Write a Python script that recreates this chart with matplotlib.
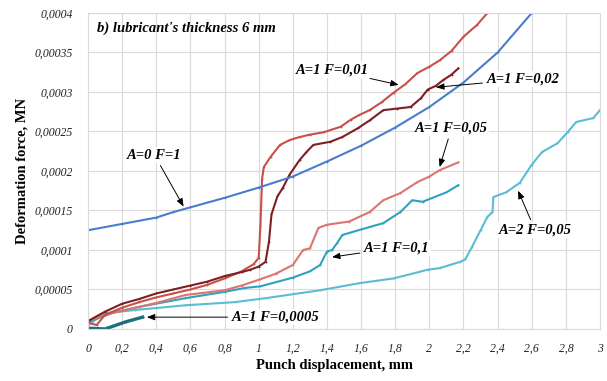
import matplotlib
matplotlib.use('Agg')
import matplotlib.pyplot as plt
from matplotlib.ticker import FixedLocator, FuncFormatter

# A=0 F=1
x_a0 = [0, 0.2, 0.4, 0.5, 0.6, 0.8, 1.0, 1.2, 1.4, 1.6, 1.8, 2.0, 2.2, 2.4, 2.6]
y_a0 = [0.000125, 0.000133, 0.000141, 0.000148, 0.000154, 0.000166, 0.000179, 0.000193,
        0.000212, 0.000232, 0.000255, 0.000281, 0.000312, 0.00035, 0.0004]

# A=1 F=0,01
x_f001 = [0, 0.05, 0.1, 0.2, 0.3, 0.4, 0.5, 0.6, 0.7, 0.8, 0.9, 0.97, 1.0, 1.01, 1.02, 1.03,
          1.07, 1.125, 1.18, 1.24, 1.3, 1.38, 1.48, 1.54, 1.59, 1.65, 1.72, 1.79, 1.86, 1.93,
          2.0, 2.06, 2.13, 2.2, 2.28, 2.34]
y_f001 = [0.000008, 0.000005, 0.000018, 0.000027, 0.000034, 0.00004, 0.000045, 0.00005,
          0.000056, 0.000064, 0.000073, 0.000082, 0.00009, 0.00013, 0.00019, 0.000205,
          0.000218, 0.000233, 0.000239, 0.000243, 0.000246, 0.000249, 0.000256, 0.000265,
          0.000271, 0.000277, 0.000287, 0.000299, 0.00031, 0.000324, 0.000332, 0.00034,
          0.000352, 0.00037, 0.000385, 0.0004]

# A=1 F=0,02
x_f002 = [0, 0.1, 0.2, 0.3, 0.4, 0.5, 0.6, 0.7, 0.8, 0.9, 0.95, 1.0, 1.04, 1.06, 1.075, 1.11,
          1.14, 1.18, 1.24, 1.28, 1.32, 1.42, 1.49, 1.58, 1.65, 1.73, 1.81, 1.89, 1.95, 1.99,
          2.04, 2.08, 2.13, 2.17]
y_f002 = [0.00001, 0.000022, 0.000032, 0.000038, 0.000045, 0.00005, 0.000055, 0.00006,
          0.000067, 0.000072, 0.000075, 0.000079, 0.000085, 0.00011, 0.000145, 0.000168,
          0.000178, 0.000195, 0.000214, 0.000224, 0.000233, 0.000237, 0.000243, 0.000254,
          0.000264, 0.000277, 0.000279, 0.000281, 0.000292, 0.000303, 0.000308, 0.000315,
          0.000322, 0.00033]

# A=1 F=0,05
x_f005 = [0, 0.1, 0.2, 0.3, 0.4, 0.57, 0.8, 0.9, 1.01, 1.1, 1.2, 1.26, 1.3, 1.35, 1.4, 1.53,
          1.65, 1.73, 1.83, 1.93, 2.0, 2.06, 2.17]
y_f005 = [0.00001, 0.000018, 0.000023, 0.000028, 0.000033, 0.000043, 0.000049, 0.000055,
          0.000063, 0.00007, 0.000081, 0.0001, 0.000102, 0.000128, 0.000132, 0.000136,
          0.000148, 0.000163, 0.000172, 0.000186, 0.000193, 0.000201, 0.000211]

# A=1 F=0,1
x_f01 = [0, 0.16, 0.3, 0.57, 0.8, 0.92, 1.01, 1.2, 1.3, 1.36, 1.4, 1.43, 1.46, 1.49, 1.6,
         1.73, 1.83, 1.9, 1.96, 2.1, 2.17]
y_f01 = [0.000009, 0.0000215, 0.000028, 0.000039, 0.000047, 0.000052, 0.000054, 0.000065,
         0.000073, 0.000081, 0.000098, 0.0001, 0.000109, 0.000119, 0.000126, 0.000134,
         0.000148, 0.000163, 0.000161, 0.000173, 0.000182]

# A=2 F=0,05
x_a2 = [0, 0.1, 0.275, 0.57, 0.86, 1.04, 1.36, 1.59, 1.79, 1.99, 2.06, 2.18, 2.21, 2.25, 2.3,
        2.34, 2.37, 2.375, 2.45, 2.53, 2.6, 2.66, 2.75, 2.81, 2.86, 2.96, 3.0]
y_a2 = [0.000005, 0.00002, 0.000024, 0.00003, 0.000034, 0.000039, 0.000049, 0.000058,
        0.000064, 0.000075, 0.000077, 0.000085, 0.000088, 0.000104, 0.000125, 0.000142,
        0.000148, 0.000167, 0.000173, 0.000185, 0.000208, 0.000224, 0.000235, 0.000249,
        0.000262, 0.000267, 0.000277]

# A=1 F=0,0005
x_f00005 = [0, 0.1, 0.22, 0.32]
y_f00005 = [0.000001, 0.0, 0.000009, 0.000015]

x_ticks = [0, 0.2, 0.4, 0.6, 0.8, 1, 1.2, 1.4, 1.6, 1.8, 2, 2.2, 2.4, 2.6, 2.8, 3]
y_ticks = [0, 0.00005, 0.0001, 0.00015, 0.0002, 0.00025, 0.0003, 0.00035, 0.0004]
y_tick_labels = ['0', '0,00005', '0,0001', '0,00015', '0,0002', '0,00025', '0,0003',
                 '0,00035', '0,0004']

plt.rcParams['font.family'] = ['Liberation Serif', 'DejaVu Serif']

fig = plt.figure(figsize=(6.07, 3.81), dpi=100)
ax = fig.add_axes([0.145, 0.1365, 0.8435, 0.8294])

line_kw = dict(lw=1.5, marker='+', ms=2, mew=0.6)
ax.plot(x_a2, y_a2, color='#5bbcd3', **line_kw)
ax.plot(x_f01, y_f01, color='#2fa2c0', **line_kw)
ax.plot(x_f005, y_f005, color='#dc7470', **line_kw)
ax.plot(x_f001, y_f001, color='#c8504b', **line_kw)
ax.plot(x_f002, y_f002, color='#7e1f22', **line_kw)
ax.plot(x_a0, y_a0, color='#4a7ccc', **line_kw)
ax.plot(x_f00005, y_f00005, color='#1c6f7c', lw=2.4, marker='+', ms=2, mew=0.6)

ax.set_xlim(0, 3)
ax.set_ylim(0, 0.0004)
ax.xaxis.set_major_locator(FixedLocator(x_ticks))
ax.yaxis.set_major_locator(FixedLocator(y_ticks))
ax.xaxis.set_major_formatter(FuncFormatter(lambda v, p: ('%g' % v).replace('.', ',')))
ax.set_yticklabels(y_tick_labels)
ax.tick_params(length=0, labelsize=8.5, colors='#222222')
ax.tick_params(axis='y', pad=11)
ax.tick_params(axis='x', pad=10)
for lab in ax.get_xticklabels() + ax.get_yticklabels():
    lab.set_fontstyle('italic')
ax.grid(True, color='#dadada', lw=0.8)
ax.set_axisbelow(True)
for sp in ax.spines.values():
    sp.set_color('#dadada')
    sp.set_linewidth(0.8)

ax.set_xlabel('Punch displacement, mm', fontsize=10.5, fontweight='bold', va='center')
ax.xaxis.set_label_coords(0.482, -0.114)
ax.set_ylabel('Deformation force, MN', fontsize=10.5, fontweight='bold', va='center')
ax.yaxis.set_label_coords(-0.129, 0.5)

ax.text(0.053, 0.000381, "b) lubricant's thickness 6 mm", fontsize=10.5,
        fontweight='bold', fontstyle='italic', ha='left', va='center')

# labels with arrows
text_kw = dict(fontsize=10.5, fontweight='bold', fontstyle='italic', ha='center', va='center',
               bbox=dict(boxstyle='square,pad=0.1', fc='white', ec='none'))
arrow = dict(arrowstyle='-|>,head_length=0.45,head_width=0.18', color='black', lw=0.7,
             shrinkA=2, shrinkB=0)
ax.annotate('A=0 F=1', xy=(0.56, 0.000155), xytext=(0.39, 0.00022), arrowprops=arrow, **text_kw)
ax.annotate('A=1 F=0,01', xy=(1.82, 0.000309), xytext=(1.43, 0.000328), arrowprops=arrow, **text_kw)
ax.annotate('A=1 F=0,02', xy=(2.04, 0.000306), xytext=(2.55, 0.000316), arrowprops=arrow, **text_kw)
ax.annotate('A=1 F=0,05', xy=(2.06, 0.000205), xytext=(2.13, 0.000254), arrowprops=arrow, **text_kw)
ax.annotate('A=1 F=0,1', xy=(1.43, 0.000091), xytext=(1.81, 0.000103), arrowprops=arrow, **text_kw)
ax.annotate('A=2 F=0,05', xy=(2.52, 0.000175), xytext=(2.62, 0.000125), arrowprops=arrow, **text_kw)
ax.annotate('A=1 F=0,0005', xy=(0.345, 0.000015), xytext=(1.1, 0.000015), arrowprops=arrow, **text_kw)

fig.savefig('out.png', dpi=100)
